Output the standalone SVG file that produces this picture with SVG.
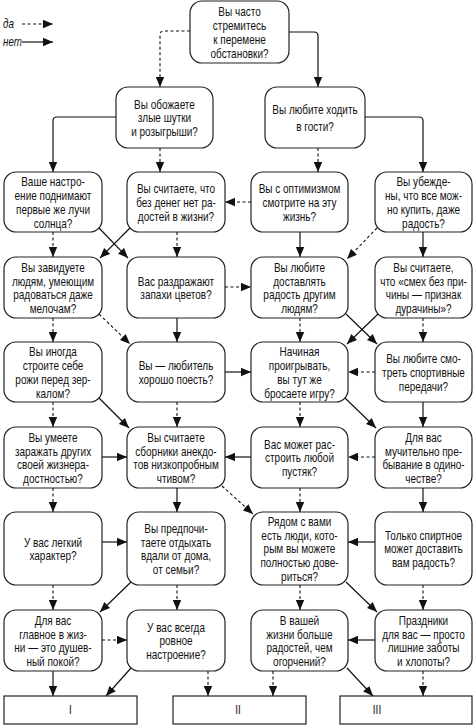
<svg xmlns="http://www.w3.org/2000/svg" width="475" height="725" viewBox="0 0 475 725">
<style>
.b{fill:#fff;stroke:#222;stroke-width:1.2}
.t{font-family:"Liberation Sans",Arial,sans-serif;font-size:12.5px;fill:#111;text-anchor:middle}
.lg{font-family:"Liberation Sans",Arial,sans-serif;font-size:12px;font-style:italic;fill:#111}
.s{fill:none;stroke:#111;stroke-width:1.2;marker-end:url(#ah)}
.d{fill:none;stroke:#111;stroke-width:1.1;stroke-dasharray:3,2.5;marker-end:url(#ah)}
</style>
<defs>
<marker id="ah" markerUnits="userSpaceOnUse" markerWidth="10" markerHeight="9" viewBox="0 0 10 9" refX="10" refY="4.5" orient="auto">
<path d="M0,0.3 L10,4.5 L0,8.7 z" fill="#111"/>
</marker>
</defs>
<rect width="475" height="725" fill="#fff"/>

<g id="legend">
<text class="lg" transform="translate(3,0) scale(0.82,1)" x="0" y="28">да</text>
<text class="lg" transform="translate(3,0) scale(0.82,1)" x="0" y="46">нет</text>
<path class="d" d="M22,24 H53"/>
<path class="s" d="M22,42 H53"/>
</g>

<g id="connectors">
<path class="d" d="M190,31 H164 Q160,31 160,35 V87"/>
<path class="d" d="M160,148 V172"/>
<path class="d" d="M318,148 V172"/>
<path class="d" d="M251,202 H225"/>
<path class="d" d="M53,232 V257"/>
<path class="d" d="M177,232 V257"/>
<path class="d" d="M377,228 L347,259"/>
<path class="d" d="M225,287 H251"/>
<path class="d" d="M53,318 V342"/>
<path class="d" d="M99,314 L130,344"/>
<path class="d" d="M300,318 V342"/>
<path class="d" d="M423,318 V342"/>
<path class="d" d="M375,372 H348"/>
<path class="d" d="M53,402 V427"/>
<path class="d" d="M177,402 V427"/>
<path class="d" d="M300,402 V427"/>
<path class="d" d="M375,457 H348"/>
<path class="d" d="M53,488 V512"/>
<path class="d" d="M222,486 L253,514"/>
<path class="d" d="M300,488 V512"/>
<path class="d" d="M53,585 V610"/>
<path class="d" d="M177,585 V610"/>
<path class="d" d="M300,585 V610"/>
<path class="d" d="M423,585 V610"/>
<path class="d" d="M102,640 H127"/>
<path class="d" d="M208,671 V696"/>
<path class="d" d="M273,671 V696"/>
<path class="d" d="M423,671 V696"/>

<path class="s" d="M289,32 H314 Q318,32 318,36 V87"/>
<path class="s" d="M116,117 H57 Q53,117 53,121 V172"/>
<path class="s" d="M365,117 H419 Q423,117 423,121 V172"/>
<path class="s" d="M99,228 L128,258"/>
<path class="s" d="M130,228 L100,258"/>
<path class="s" d="M300,232 V257"/>
<path class="s" d="M423,232 V257"/>
<path class="s" d="M177,318 V342"/>
<path class="s" d="M346,314 L377,344"/>
<path class="s" d="M378,314 L347,344"/>
<path class="s" d="M225,372 H251"/>
<path class="s" d="M99,398 L129,428"/>
<path class="s" d="M345,398 L376,428"/>
<path class="s" d="M423,402 V427"/>
<path class="s" d="M102,457 H127"/>
<path class="s" d="M251,457 H225"/>
<path class="s" d="M177,488 V512"/>
<path class="s" d="M423,488 V512"/>
<path class="s" d="M102,542 H127"/>
<path class="s" d="M375,542 H348"/>
<path class="s" d="M131,582 L100,612"/>
<path class="s" d="M346,582 L377,612"/>
<path class="s" d="M53,671 V696"/>
<path class="s" d="M131,668 L106,696"/>
<path class="s" d="M347,668 L373,696"/>
<path class="s" d="M375,640 H348"/>
</g>

<g id="n_top"><rect class="b" x="190" y="1" width="99" height="62" rx="12"/>
<text class="t" transform="translate(239.5,0) scale(0.8,1)"><tspan x="0" y="16.5">Вы часто</tspan><tspan x="0" y="30.2">стремитесь</tspan><tspan x="0" y="43.9">к перемене</tspan><tspan x="0" y="57.6">обстановки?</tspan></text></g>

<g id="n1"><rect class="b" x="116" y="87" width="97" height="61" rx="12"/>
<text class="t" transform="translate(164.5,0) scale(0.8,1)"><tspan x="0" y="108.8">Вы обожаете</tspan><tspan x="0" y="122.5">злые шутки</tspan><tspan x="0" y="136.2">и розыгрыши?</tspan></text></g>

<g id="n2"><rect class="b" x="265" y="87" width="100" height="61" rx="12"/>
<text class="t" transform="translate(315,0) scale(0.8,1)"><tspan x="0" y="114.5">Вы любите ходить</tspan><tspan x="0" y="131">в гости?</tspan></text></g>

<g id="nA"><rect class="b" x="4" y="172" width="98" height="60" rx="12"/>
<text class="t" transform="translate(53,0) scale(0.8,1)"><tspan x="0" y="186.5">Ваше настро-</tspan><tspan x="0" y="200.2">ение поднимают</tspan><tspan x="0" y="213.9">первые же лучи</tspan><tspan x="0" y="227.6">солнца?</tspan></text></g>

<g id="nB"><rect class="b" x="127" y="172" width="98" height="60" rx="12"/>
<text class="t" transform="translate(176,0) scale(0.8,1)"><tspan x="0" y="193.3">Вы считаете, что</tspan><tspan x="0" y="207">без денег нет ра-</tspan><tspan x="0" y="220.7">достей в жизни?</tspan></text></g>

<g id="nC"><rect class="b" x="251" y="172" width="97" height="60" rx="12"/>
<text class="t" transform="translate(299.5,0) scale(0.8,1)"><tspan x="0" y="193.3">Вы с оптимизмом</tspan><tspan x="0" y="207">смотрите на эту</tspan><tspan x="0" y="220.7">жизнь?</tspan></text></g>

<g id="nD"><rect class="b" x="375" y="172" width="97" height="60" rx="12"/>
<text class="t" transform="translate(423.5,0) scale(0.8,1)"><tspan x="0" y="186.5">Вы убежде-</tspan><tspan x="0" y="200.2">ны, что все мож-</tspan><tspan x="0" y="213.9">но купить, даже</tspan><tspan x="0" y="227.6">радость?</tspan></text></g>

<g id="nE"><rect class="b" x="4" y="257" width="98" height="61" rx="12"/>
<text class="t" transform="translate(53,0) scale(0.8,1)"><tspan x="0" y="272">Вы завидуете</tspan><tspan x="0" y="285.7">людям, умеющим</tspan><tspan x="0" y="299.4">радоваться даже</tspan><tspan x="0" y="313">мелочам?</tspan></text></g>

<g id="nF"><rect class="b" x="127" y="257" width="98" height="61" rx="12"/>
<text class="t" transform="translate(176,0) scale(0.8,1)"><tspan x="0" y="285.7">Вас раздражают</tspan><tspan x="0" y="299.4">запахи цветов?</tspan></text></g>

<g id="nG"><rect class="b" x="251" y="257" width="97" height="61" rx="12"/>
<text class="t" transform="translate(299.5,0) scale(0.8,1)"><tspan x="0" y="272">Вы любите</tspan><tspan x="0" y="285.7">доставлять</tspan><tspan x="0" y="299.4">радость другим</tspan><tspan x="0" y="313">людям?</tspan></text></g>

<g id="nH"><rect class="b" x="375" y="257" width="97" height="61" rx="12"/>
<text class="t" transform="translate(423.5,0) scale(0.8,1)"><tspan x="0" y="272">Вы считаете,</tspan><tspan x="0" y="285.7">что «смех без при-</tspan><tspan x="0" y="299.4">чины — признак</tspan><tspan x="0" y="313">дурачины»?</tspan></text></g>

<g id="nI"><rect class="b" x="4" y="342" width="98" height="60" rx="12"/>
<text class="t" transform="translate(53,0) scale(0.8,1)"><tspan x="0" y="356.5">Вы иногда</tspan><tspan x="0" y="370.2">строите себе</tspan><tspan x="0" y="383.9">рожи перед зер-</tspan><tspan x="0" y="397.6">калом?</tspan></text></g>

<g id="nJ"><rect class="b" x="127" y="342" width="98" height="60" rx="12"/>
<text class="t" transform="translate(176,0) scale(0.8,1)"><tspan x="0" y="370.2">Вы — любитель</tspan><tspan x="0" y="383.9">хорошо поесть?</tspan></text></g>

<g id="nK"><rect class="b" x="251" y="342" width="97" height="60" rx="12"/>
<text class="t" transform="translate(299.5,0) scale(0.8,1)"><tspan x="0" y="356.5">Начиная</tspan><tspan x="0" y="370.2">проигрывать,</tspan><tspan x="0" y="383.9">вы тут же</tspan><tspan x="0" y="397.6">бросаете игру?</tspan></text></g>

<g id="nL"><rect class="b" x="375" y="342" width="97" height="60" rx="12"/>
<text class="t" transform="translate(423.5,0) scale(0.8,1)"><tspan x="0" y="363.3">Вы любите смо-</tspan><tspan x="0" y="377">треть спортивные</tspan><tspan x="0" y="390.7">передачи?</tspan></text></g>

<g id="nM"><rect class="b" x="4" y="427" width="98" height="61" rx="12"/>
<text class="t" transform="translate(53,0) scale(0.8,1)"><tspan x="0" y="442">Вы умеете</tspan><tspan x="0" y="455.7">заражать других</tspan><tspan x="0" y="469.4">своей жизнера-</tspan><tspan x="0" y="483">достностью?</tspan></text></g>

<g id="nN"><rect class="b" x="127" y="427" width="98" height="61" rx="12"/>
<text class="t" transform="translate(176,0) scale(0.8,1)"><tspan x="0" y="442">Вы считаете</tspan><tspan x="0" y="455.7">сборники анекдо-</tspan><tspan x="0" y="469.4">тов низкопробным</tspan><tspan x="0" y="483">чтивом?</tspan></text></g>

<g id="nO"><rect class="b" x="251" y="427" width="97" height="61" rx="12"/>
<text class="t" transform="translate(299.5,0) scale(0.8,1)"><tspan x="0" y="448.8">Вас может рас-</tspan><tspan x="0" y="462.5">строить любой</tspan><tspan x="0" y="476.2">пустяк?</tspan></text></g>

<g id="nP"><rect class="b" x="375" y="427" width="97" height="61" rx="12"/>
<text class="t" transform="translate(423.5,0) scale(0.8,1)"><tspan x="0" y="442">Для вас</tspan><tspan x="0" y="455.7">мучительно пре-</tspan><tspan x="0" y="469.4">бывание в одино-</tspan><tspan x="0" y="483">честве?</tspan></text></g>

<g id="nQ"><rect class="b" x="4" y="512" width="98" height="73" rx="12"/>
<text class="t" transform="translate(53,0) scale(0.8,1)"><tspan x="0" y="546.7">У вас легкий</tspan><tspan x="0" y="560.4">характер?</tspan></text></g>

<g id="nR"><rect class="b" x="127" y="512" width="98" height="73" rx="12"/>
<text class="t" transform="translate(176,0) scale(0.8,1)"><tspan x="0" y="533">Вы предпочи-</tspan><tspan x="0" y="546.7">таете отдыхать</tspan><tspan x="0" y="560.4">вдали от дома,</tspan><tspan x="0" y="574">от семьи?</tspan></text></g>

<g id="nS"><rect class="b" x="251" y="512" width="97" height="73" rx="12"/>
<text class="t" transform="translate(299.5,0) scale(0.8,1)"><tspan x="0" y="526.1">Рядом с вами</tspan><tspan x="0" y="539.8">есть люди, кото-</tspan><tspan x="0" y="553.5">рым вы можете</tspan><tspan x="0" y="567.2">полностью дове-</tspan><tspan x="0" y="580.9">риться?</tspan></text></g>

<g id="nT"><rect class="b" x="375" y="512" width="97" height="73" rx="12"/>
<text class="t" transform="translate(423.5,0) scale(0.8,1)"><tspan x="0" y="539.8">Только спиртное</tspan><tspan x="0" y="553.5">может доставить</tspan><tspan x="0" y="567.2">вам радость?</tspan></text></g>

<g id="nU"><rect class="b" x="4" y="610" width="98" height="61" rx="12"/>
<text class="t" transform="translate(53,0) scale(0.8,1)"><tspan x="0" y="625">Для вас</tspan><tspan x="0" y="638.7">главное в жиз-</tspan><tspan x="0" y="652.4">ни — это душев-</tspan><tspan x="0" y="666">ный покой?</tspan></text></g>

<g id="nV"><rect class="b" x="127" y="610" width="98" height="61" rx="12"/>
<text class="t" transform="translate(176,0) scale(0.8,1)"><tspan x="0" y="631.8">У вас всегда</tspan><tspan x="0" y="645.5">ровное</tspan><tspan x="0" y="659.2">настроение?</tspan></text></g>

<g id="nW"><rect class="b" x="251" y="610" width="97" height="61" rx="12"/>
<text class="t" transform="translate(299.5,0) scale(0.8,1)"><tspan x="0" y="625">В вашей</tspan><tspan x="0" y="638.7">жизни больше</tspan><tspan x="0" y="652.4">радостей, чем</tspan><tspan x="0" y="666">огорчений?</tspan></text></g>

<g id="nX"><rect class="b" x="375" y="610" width="97" height="61" rx="12"/>
<text class="t" transform="translate(423.5,0) scale(0.8,1)"><tspan x="0" y="625">Праздники</tspan><tspan x="0" y="638.7">для вас — просто</tspan><tspan x="0" y="652.4">лишние заботы</tspan><tspan x="0" y="666">и хлопоты?</tspan></text></g>

<g id="res1"><rect class="b" x="4" y="696" width="133" height="28"/>
<text class="t" transform="translate(70.5,0) scale(0.8,1)" x="0" y="714.5">I</text></g>
<g id="res2"><rect class="b" x="173" y="696" width="133" height="28"/>
<text class="t" transform="translate(238,0) scale(0.8,1)" x="0" y="714.5">II</text></g>
<g id="res3"><rect class="b" x="340" y="696" width="132" height="28"/>
<text class="t" transform="translate(377,0) scale(0.8,1)" x="0" y="714.5">III</text></g>
</svg>
